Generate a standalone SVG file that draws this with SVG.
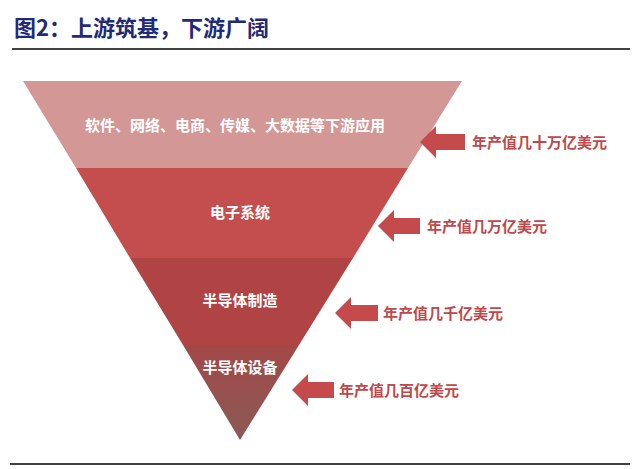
<svg xmlns="http://www.w3.org/2000/svg" width="640" height="469" viewBox="0 0 640 469">
<style>
.t{font-family:"Noto Sans CJK SC",sans-serif;font-weight:bold;font-size:15px;fill:#fff;text-anchor:middle}
.a{font-family:"Noto Sans CJK SC",sans-serif;font-weight:bold;font-size:15px;fill:#c0474a}
.ar{fill:#c54a4b}
</style>
<defs><linearGradient id="g" x1="0" y1="0" x2="0" y2="1"><stop offset="0" stop-color="#a34848"/><stop offset="1" stop-color="#8a5a55"/></linearGradient></defs>
<rect width="640" height="469" fill="#fff"/>
<text x="14" y="36" font-family="Noto Sans CJK SC,serif" font-weight="bold" font-size="22" fill="#1f2a78">图2：上游筑基，下游广阔</text>
<line x1="12" y1="49" x2="630" y2="49" stroke="#000" stroke-width="1.5"/>
<line x1="10" y1="464" x2="630" y2="464" stroke="#000" stroke-width="1.5"/>
<g id="n1"><polygon points="23,81 462,81 408,168 76,168" fill="#d39796"/><text class="t" x="235" y="131">软件、网络、电商、传媒、大数据等下游应用</text></g>
<g id="n2"><polygon points="76,168 408,168 353,258 130,258" fill="#c44e4e"/><text class="t" x="240" y="218">电子系统</text></g>
<g id="n3"><polygon points="130,258 353,258 299,345 183,345" fill="#b04444"/><text class="t" x="240" y="306">半导体制造</text></g>
<g id="n4"><polygon points="183,345 299,345 240,440" fill="url(#g)"/><text class="t" x="240" y="373">半导体设备</text></g>
<g id="connectors">
<polygon class="ar" points="420,142 436,126 436,134 465,134 465,150 436,150 436,158"/>
<polygon class="ar" points="378,226 394,210 394,218 420,218 420,234 394,234 394,242"/>
<polygon class="ar" points="335,313 351,297 351,305 378,305 378,321 351,321 351,329"/>
<polygon class="ar" points="292,390 308,374 308,382 334,382 334,398 308,398 308,406"/>
</g>
<text class="a" x="472" y="148">年产值几十万亿美元</text>
<text class="a" x="427" y="232">年产值几万亿美元</text>
<text class="a" x="383" y="319">年产值几千亿美元</text>
<text class="a" x="339" y="396">年产值几百亿美元</text>
</svg>
